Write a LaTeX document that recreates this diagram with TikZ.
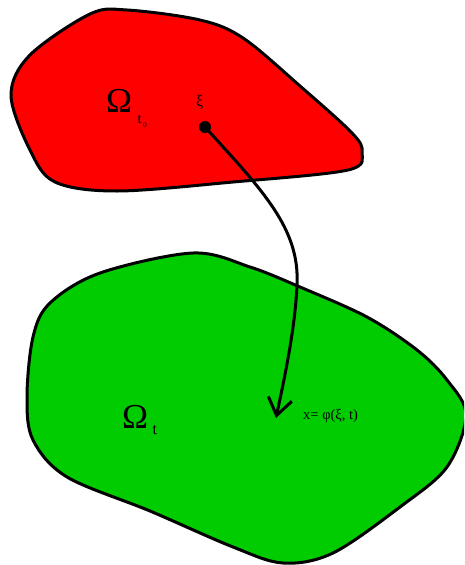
\documentclass[tikz,border=0pt]{standalone}
\usepackage{fontspec}
\setmainfont{Liberation Serif}
\usetikzlibrary{arrows.meta}
\definecolor{regred}{RGB}{255,0,0}
\definecolor{reggreen}{RGB}{0,204,0}
\tikzset{
  region/.style={draw=black, line width=3pt, line join=round},
  lbl/.style={inner sep=0pt, anchor=base west, text=black},
}
\begin{document}
\begin{tikzpicture}[x=1pt,y=-1pt]
\useasboundingbox (0,0) rectangle (464,565);
\clip (0,0) rectangle (464,565);
% red region (reference configuration)
\draw[region, fill=regred] plot[smooth cycle, tension=0.55] coordinates {
  (11,95) (30,55) (90,14) (127,10) (200,20) (243,38) (300,86) (352,133)
  (362,152) (348,170) (233,182) (117,191) (55,182) (30,150)};
% green region (current configuration)
\draw[region, fill=reggreen] plot[smooth cycle, tension=0.55] coordinates {
  (193,253) (250,267) (300,287) (367,317) (417,350) (447,380) (466,415)
  (447,467) (400,507) (333,553) (283,563) (233,547) (150,511) (67,477)
  (33,440) (27,397) (33,337) (50,303) (100,273)};
% labels
\node[lbl, font=\fontsize{35}{35}\selectfont] (om0) at (106,112) {Ω};
\node[lbl, font=\fontsize{15}{15}\selectfont] (t0) at (137.5,123.5) {t};
\node[lbl, font=\fontsize{7.5}{7.5}\selectfont] (z0) at (143,127.5) {0};
\node[lbl, font=\fontsize{16}{16}\selectfont] (xi) at (196,106) {ξ};
\node[lbl, font=\fontsize{35}{35}\selectfont] (om) at (122,428) {Ω};
\node[lbl, font=\fontsize{16}{16}\selectfont] (t) at (152.5,434) {t};
\node[lbl, font=\fontsize{14.5}{14.5}\selectfont] (map) at (303,419) {x= φ(ξ, t)};
% material point and mapping
\node[circle, fill=black, inner sep=0pt, minimum size=12pt] (p0) at (205,127) {};
\coordinate (p1) at (276,418);
\draw[line width=3pt, -{Straight Barb[length=17pt, width=24pt, line width=3pt]}]
  (p0.center) .. controls (262,190) and (300,228) .. (297,285)
  .. controls (295,330) and (284,380) .. (p1);
\end{tikzpicture}
\end{document}
